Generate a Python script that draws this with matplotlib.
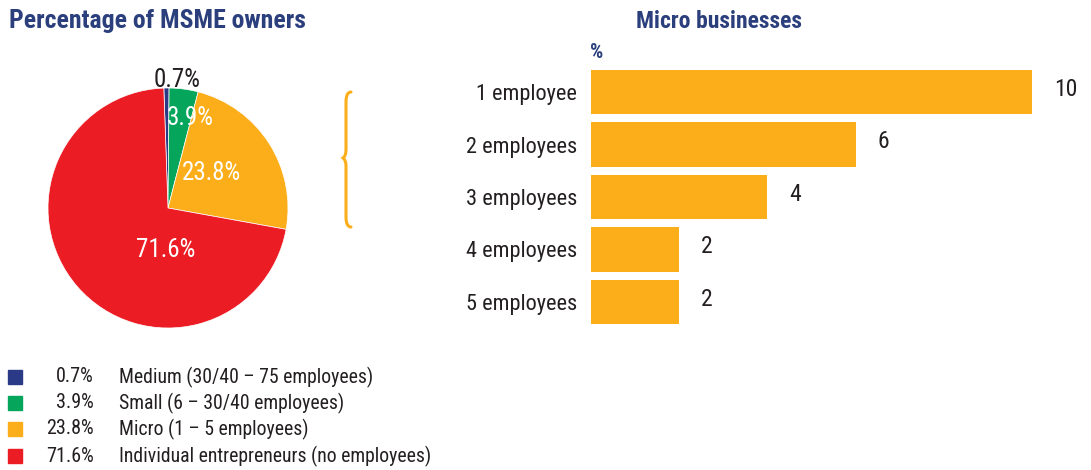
import matplotlib.pyplot as plt
from matplotlib.path import Path
from matplotlib.patches import PathPatch, Rectangle

plt.rcParams['font.family'] = ['Roboto Condensed', 'Liberation Sans', 'DejaVu Sans']

# owner shares (pie + legend)
shares = [0.7, 3.9, 23.8, 71.6]
share_labels = ['0.7%', '3.9%', '23.8%', '71.6%']
owner_types = ['Medium (30/40 \u2013 75 employees)', 'Small (6 \u2013 30/40 employees)',
               'Micro (1 \u2013 5 employees)', 'Individual entrepreneurs (no employees)']
colors = ['#2b3a87', '#05a65b', '#fbae1a', '#ec1c24']

# micro businesses by size
sizes = ['1 employee', '2 employees', '3 employees', '4 employees', '5 employees']
size_pct = [10, 6, 4, 2, 2]

navy = '#2b3f7d'
ink = '#231f20'
W, H = 1091, 470

fig = plt.figure(figsize=(W / 100, H / 100), dpi=100)


def fx(px):
    return px / W


def fy(py):
    return 1 - py / H


# titles
fig.text(fx(9), fy(21), 'Percentage of MSME owners', fontsize=18.5, fontweight='bold',
         color=navy, va='center', ha='left')
fig.text(fx(719), fy(21), 'Micro businesses', fontsize=17, fontweight='bold',
         color=navy, va='center', ha='center')
fig.text(fx(597), fy(53), '%', fontsize=15, fontweight='bold', color=navy,
         va='center', ha='center')

# pie
pax = fig.add_axes([fx(48), fy(328), fx(240), 240 / H])
wedges, _ = pax.pie(shares, colors=colors, startangle=92, counterclock=False,
                    radius=1, wedgeprops=dict(linewidth=0.5, edgecolor='white'))
pax.set_aspect('equal')
pax.set_xlim(-1, 1)
pax.set_ylim(-1, 1)
pax.axis('off')
label_pos = [(0.075, 1.07), (0.185, 0.75), (0.36, 0.29), (-0.02, -0.35)]
label_col = [ink, 'white', 'white', 'white']
for txt, (lx, ly), c in zip(share_labels, label_pos, label_col):
    pax.text(lx, ly, txt, ha='center', va='center', fontsize=18, color=c)

# brace linking the micro slice to the bar chart
bx, top, mid, bot = 351, 92, 158, 227
verts = [(fx(bx), fy(top)), (fx(bx - 5), fy(top)), (fx(bx - 5), fy(top + 10)),
         (fx(bx - 5), fy(top + 10)), (fx(bx - 5), fy(mid - 8)),
         (fx(bx - 5), fy(mid - 2)), (fx(bx - 8), fy(mid)),
         (fx(bx - 5), fy(mid + 2)), (fx(bx - 5), fy(mid + 8)),
         (fx(bx - 5), fy(mid + 8)), (fx(bx - 5), fy(bot - 10)),
         (fx(bx - 5), fy(bot)), (fx(bx), fy(bot))]
codes = [Path.MOVETO, Path.CURVE3, Path.CURVE3, Path.LINETO, Path.LINETO,
         Path.CURVE3, Path.CURVE3, Path.CURVE3, Path.CURVE3, Path.LINETO,
         Path.LINETO, Path.CURVE3, Path.CURVE3]
fig.patches.append(PathPatch(Path(verts, codes), transform=fig.transFigure,
                             fill=False, edgecolor='#fbae1a', linewidth=2.2,
                             capstyle='round'))

# legend
rows = [377, 403, 429, 456]
for y, c, pct, name in zip(rows, colors, share_labels, owner_types):
    fig.patches.append(Rectangle((fx(8), fy(y + 7)), fx(14), 14 / H, color=c,
                                 transform=fig.transFigure))
    fig.text(fx(94), fy(y), pct, ha='right', va='center', fontsize=14.5, color=ink)
    fig.text(fx(119), fy(y), name, ha='left', va='center', fontsize=14.2, color=ink)

# bar chart
bax = fig.add_axes([fx(591), fy(324), fx(441), 254 / H])
ypos = list(range(len(sizes)))
bax.barh(ypos, size_pct, height=0.84, color='#fbae1a')
bax.set_xlim(0, 10)
bax.set_ylim(4.42, -0.42)
bax.set_yticks(ypos)
bax.set_yticklabels(sizes, fontsize=16, color=ink)
bax.tick_params(axis='y', length=0, pad=10)
bax.set_xticks([])
for s in bax.spines.values():
    s.set_visible(False)
for y, v in zip(ypos, size_pct):
    bax.text(v + 0.5, y - 0.05, str(v), ha='left', va='center', fontsize=17,
             color=ink, clip_on=False)

fig.savefig('out.png', dpi=100)
